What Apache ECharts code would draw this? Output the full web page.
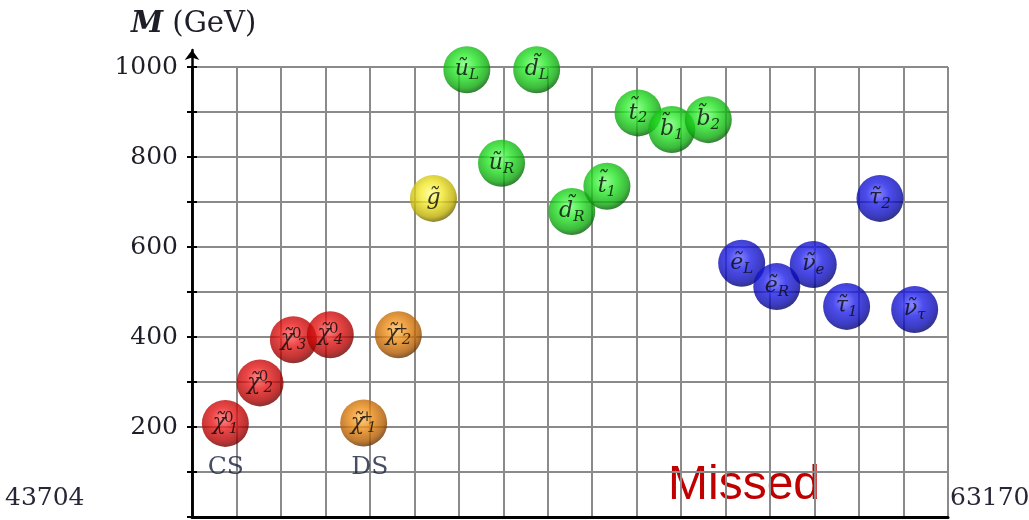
<!DOCTYPE html>
<html><head><meta charset="utf-8">
<script src="https://cdn.jsdelivr.net/npm/echarts@6/dist/echarts.min.js"></script>
<style>html,body{margin:0;padding:0;background:#fff}#c{width:1029px;height:520px}</style>
</head><body><div id="c"></div>
<script>
// ---- data ----
const bases  = ['χ\u0303','χ\u0303','χ\u0303','χ\u0303','χ\u0303','χ\u0303','g\u0303','u\u0303','d\u0303','u\u0303','d\u0303','t\u0303','t\u0303','b\u0303','b\u0303','e\u0303','e\u0303','ν\u0303','τ\u0303','τ\u0303','ν\u0303'];
const sups   = ['0','0','0','0','+','+','','','','','','','','','','','','','','',''];
const subs   = ['1','2','3','4','1','2','','L','L','R','R','1','2','1','2','L','R','e','1','2','τ'];
const xPos   = [0.75,1.53,2.28,3.11,3.86,4.64,5.43,6.18,7.75,6.96,8.54,9.33,10.03,10.79,11.61,12.36,13.15,13.97,14.72,15.47,16.25];
const masses = [208,298,394,405,209,405,708,994,994,786,679,735,898,861,883,564,512,561,468,708,461];
const groups = ['n','n','n','n','c','c','g','q','q','q','q','q','q','q','q','l','l','l','l','l','l'];
const groupNames = ['CS','DS'];
const groupX = [0.76,4.0];
const groupY = [111,111];
const yTicks = [0,100,200,300,400,500,600,700,800,900,1000];
const edgeLabels = ['43704','63170'];

const palette = {
  n:['#ff6a6a','#e81818','#b00000','#6a0000'],
  c:['#ffc060','#ea8a14','#b05a00','#663200'],
  g:['#ffff90','#f2e82a','#bcae00','#706200'],
  q:['#80ff80','#28e828','#0ca80c','#046004'],
  l:['#6a6aff','#2020ea','#0a0ab0','#000066']
};
function ball(g){
  const p = palette[g];
  return new echarts.graphic.RadialGradient(0.45,0.4,0.6,[
    {offset:0,color:p[0]},{offset:0.4,color:p[1]},{offset:0.82,color:p[2]},{offset:1,color:p[3]}]);
}
const pts = xPos.map((x,i)=>({value:[x,masses[i]], idx:i, itemStyle:{color:ball(groups[i])}}));
const chart = echarts.init(document.getElementById('c'));
const serif = "'DejaVu Serif','Liberation Serif',serif";
chart.setOption({
  animation:false,
  title:{text:'{i|M} (GeV)',left:126,top:5,textStyle:{fontFamily:serif,fontSize:29,color:'#1e1e28',fontWeight:'normal',
    rich:{i:{fontFamily:serif,fontStyle:'italic',fontWeight:'bold',fontSize:29,color:'#1e1e28'}}}},
  graphic:[
    {type:'text',left:5,top:486,style:{text:edgeLabels[0],font:"25px 'DejaVu Serif'",fill:'#262636'}},
    {type:'text',left:950,top:486,style:{text:edgeLabels[1],font:"25px 'DejaVu Serif'",fill:'#262636'}},
    {type:'text',left:668,top:462,style:{text:'Missed',font:"48px 'Liberation Sans'",fill:'#c00000'}}
  ],
  grid:[{left:192,top:67,width:756,height:450},{left:192,top:50,width:756,height:467}],
  xAxis:[
    {gridIndex:0,type:'value',min:0,max:17,interval:1,axisLine:{show:true,onZero:false,lineStyle:{color:'#000',width:3}},
     axisTick:{show:false},axisLabel:{show:false},splitLine:{show:true,lineStyle:{color:'#8a8a8a',width:2}}},
    {gridIndex:1,type:'value',show:false,min:0,max:17}
  ],
  yAxis:[
    {gridIndex:0,type:'value',min:0,max:1000,interval:100,
     axisLine:{show:true,onZero:false,lineStyle:{color:'#000',width:2.5}},
     axisTick:{show:true,length:5,lineStyle:{color:'#000',width:2}},
     axisLabel:{margin:14,fontFamily:serif,fontSize:25,color:'#1e1e28',
       formatter:v=>(v>0 && v%200===0 && yTicks.includes(v))?String(v):''},
     splitLine:{show:true,lineStyle:{color:'#8a8a8a',width:2}}},
    {gridIndex:0,type:'value',min:0,max:1000,interval:100,position:'left',
     axisLine:{show:false},axisTick:{show:true,inside:true,length:5,lineStyle:{color:'#000',width:2}},
     axisLabel:{show:false},splitLine:{show:false}},
    {gridIndex:1,type:'value',min:0,max:1040,
     axisLine:{show:true,onZero:false,symbol:['none','arrow'],symbolSize:[11,10],lineStyle:{color:'#000',width:2.5}},
     axisTick:{show:false},axisLabel:{show:false},splitLine:{show:false}}
  ],
  series:[
    {type:'scatter',xAxisIndex:0,yAxisIndex:0,symbol:'circle',symbolSize:47,data:pts,z:3,
     label:{show:true,position:'inside',
       formatter:p=>{const i=p.data.idx;let s='{m|'+bases[i]+'}';
         if(sups[i]) s+='{sup|'+sups[i]+'}';
         if(subs[i]) s+='{sub|'+subs[i]+'}';return s;},
       rich:{
         m:{fontFamily:serif,fontStyle:'italic',fontSize:22,color:'#0a0a0a',lineHeight:26,verticalAlign:'middle'},
         sup:{fontFamily:serif,fontSize:15,color:'#0a0a0a',width:0,align:'left',verticalAlign:'top',lineHeight:14,padding:[0,0,12,3]},
         sub:{fontFamily:serif,fontStyle:'italic',fontSize:15,color:'#0a0a0a',align:'left',verticalAlign:'bottom',lineHeight:14,padding:[10,0,0,0]}
       }}},
    {type:'scatter',xAxisIndex:0,yAxisIndex:0,symbolSize:0,z:4,
     data:groupX.map((x,i)=>({value:[x,groupY[i]],name:groupNames[i]})),
     label:{show:true,position:'inside',formatter:p=>p.name,fontFamily:serif,fontSize:25,color:'#18223c'}}
  ]
});
</script></body></html>
